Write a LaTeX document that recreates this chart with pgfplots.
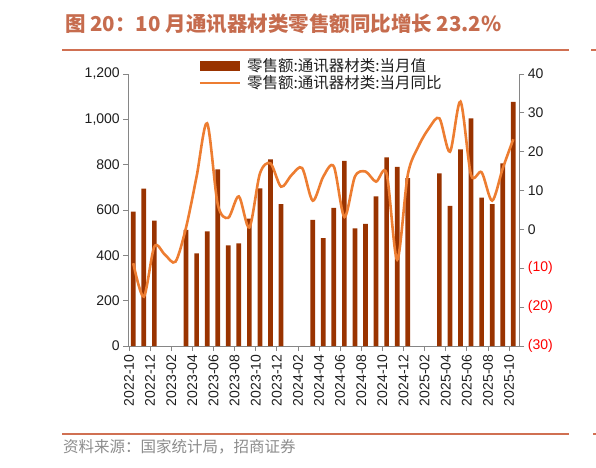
\documentclass[border=0pt]{standalone}
\usepackage{fontspec}
\setmainfont{Liberation Sans}
\newfontfamily\cjk{Noto Sans CJK SC}
\usepackage{pgfplots}
\usepackage{pgfplotstable}
\pgfplotsset{compat=1.18}

\definecolor{barred}{RGB}{153,51,0}
\definecolor{lineorange}{RGB}{237,125,49}
\definecolor{titlecol}{RGB}{198,108,78}
\definecolor{rulecol}{RGB}{208,112,82}
\definecolor{axisgrey}{RGB}{134,134,134}
\definecolor{srcgrey}{RGB}{140,140,140}
\definecolor{txt}{RGB}{30,30,30}

% month index: 0 = 2022-10 ... 36 = 2025-10 (Jan/Feb have no monthly value)
\pgfplotstableread{
idx val
0 593
1 694
2 553
5 512
6 409
7 506
8 779
9 444
10 453
11 562
12 695
13 823
14 626
17 557
18 476
19 609
20 817
21 519
22 539
23 660
24 832
25 790
26 741
29 762
30 618
31 868
32 1004
33 655
34 626
35 806
36 1077
}\salestable

\pgfplotstableread{
idx yoy
0 -8.7
1 -17.3
2 -4.4
3 -6.5
4 -8.3
5 0.5
6 13.6
7 27.3
8 6.5
9 3.0
10 8.5
11 0.5
12 14.4
13 17.0
14 11.0
15 14.0
16 15.8
17 7.4
18 13.6
19 16.2
20 3.2
21 13.6
22 14.9
23 12.3
24 14.4
25 -7.8
26 14.0
27 21.3
28 26.0
29 28.6
30 20.0
31 32.9
32 14.0
33 14.7
34 7.4
35 15.7
36 23.2
}\yoytable

\pgfplotsset{
  barleg/.style={legend image code/.code={\fill[barred] (0pt,-5.2pt) rectangle (40pt,5.2pt);}},
  lineleg/.style={legend image code/.code={\draw[lineorange, line width=2.6pt] (0pt,0pt) -- (40pt,0pt);}},
  common/.style={
    at={(128.3pt,-346pt)}, anchor=south west,
    scale only axis, width=391pt, height=272pt,
    xmin=-0.47, xmax=36.57,
    axis line style={-, axisgrey, line width=0.8pt},
    every tick/.style={axisgrey, line width=0.8pt},
    tick align=outside, major tick length=5pt,
    tick label style={font=\fontsize{14}{16}\selectfont, text=txt},
  },
}

\begin{document}
\begin{tikzpicture}
\path[use as bounding box] (0,0) rectangle (596pt,-467pt);

\node[anchor=west, text=titlecol, font=\cjk\bfseries\fontsize{20.5}{24}\selectfont, inner sep=0pt]
  at (65pt,-24pt) {图 20：10 月通讯器材类零售额同比增长 23.2\%};
\draw[rulecol, line width=1.4pt] (62pt,-50pt) -- (569pt,-50pt);
\draw[rulecol, line width=1.4pt] (591pt,-50pt) -- (596pt,-50pt);
\draw[rulecol, line width=1.4pt] (62pt,-434pt) -- (569pt,-434pt);
\draw[rulecol, line width=1.4pt] (593pt,-434pt) -- (596pt,-434pt);
\node[anchor=west, text=srcgrey, font=\cjk\fontsize{15.5}{18}\selectfont, inner sep=0pt]
  at (63pt,-447pt) {资料来源：国家统计局，招商证券};

\begin{axis}[
  common,
  ymin=0, ymax=1200,
  axis x line*=bottom, axis y line*=left,
  xtick={-0.4,1.6,3.6,5.6,7.6,9.6,11.6,13.6,15.6,17.6,19.6,21.6,23.6,25.6,27.6,29.6,31.6,33.6,35.6},
  xticklabels={2022-10,2022-12,2023-02,2023-04,2023-06,2023-08,2023-10,2023-12,2024-02,2024-04,2024-06,2024-08,2024-10,2024-12,2025-02,2025-04,2025-06,2025-08,2025-10},
  xticklabel style={rotate=90, anchor=east, inner sep=3.5pt},
  ytick={0,200,...,1200},
  scaled y ticks=false,
  yticklabel style={/pgf/number format/1000 sep={,}, /pgf/number format/assume math mode=true},
  legend style={draw=none, fill=none, inner sep=0pt, at={(0.179,1.057)}, anchor=north west,
    font=\cjk\fontsize{15.5}{17}\selectfont, text=txt, column sep=6pt, row sep=2.5pt,
    nodes={inner sep=0pt}},
  legend cell align=left,
]
\addplot[ybar, fill=barred, draw=none, bar width=4.7pt, barleg] table[x=idx, y=val] {\salestable};
\addlegendentry{零售额:通讯器材类:当月值}
\addlegendimage{lineleg}
\addlegendentry{零售额:通讯器材类:当月同比}
\end{axis}

\begin{axis}[
  common,
  ymin=-30, ymax=40,
  axis y line*=right, axis x line=none,
  ytick={-30,-20,...,40},
  yticklabels={\textcolor{red}{(30)},\textcolor{red}{(20)},\textcolor{red}{(10)},0,10,20,30,40},
]
\addplot[lineorange, line width=2.6pt, smooth, no markers] table[x=idx, y=yoy] {\yoytable};
\end{axis}
\end{tikzpicture}
\end{document}
